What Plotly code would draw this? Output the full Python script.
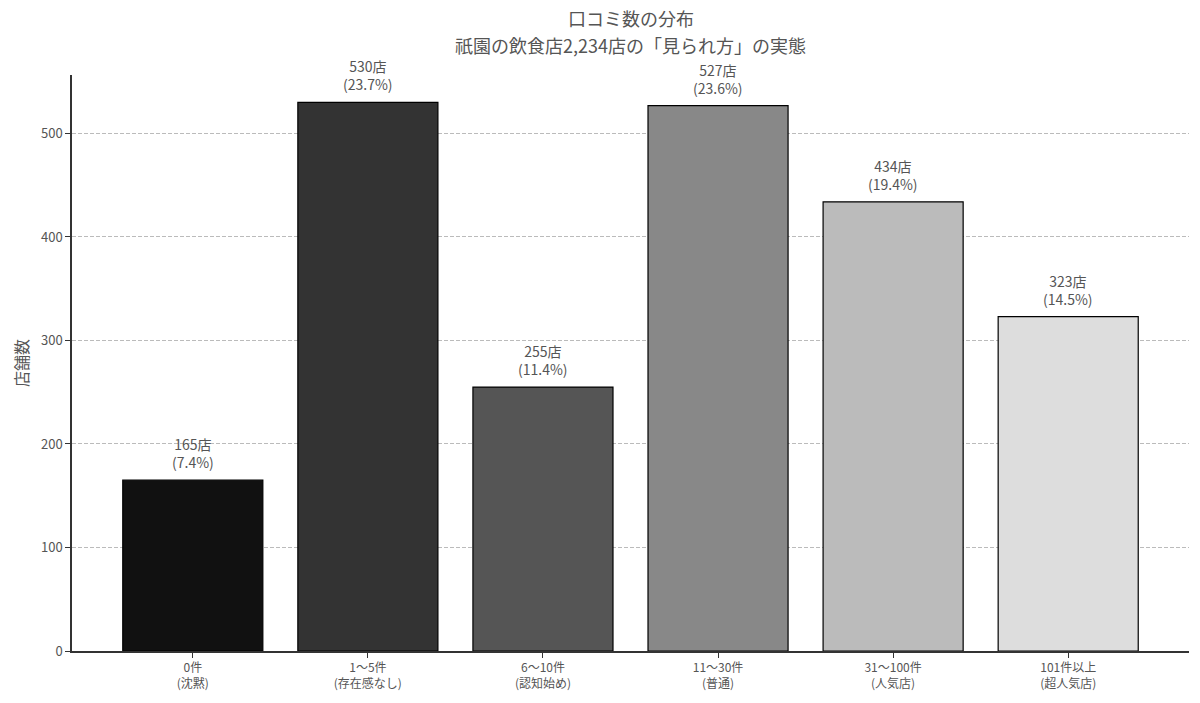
import plotly.graph_objects as go

# 口コミ数の区分ごとの店舗数
categories = ["0件<br>(沈黙)", "1〜5件<br>(存在感なし)", "6〜10件<br>(認知始め)",
              "11〜30件<br>(普通)", "31〜100件<br>(人気店)", "101件以上<br>(超人気店)"]
counts = [165, 530, 255, 527, 434, 323]
shares = [7.4, 23.7, 11.4, 23.6, 19.4, 14.5]
colors = ["#111111", "#333333", "#555555", "#888888", "#bbbbbb", "#dddddd"]

FONT = "Noto Sans CJK JP"
TXT = "#555555"

xs = list(range(len(categories)))

fig = go.Figure(go.Bar(
    x=xs,
    y=counts,
    width=0.8,
    marker=dict(color=colors, line=dict(color="black", width=1.2)),
    showlegend=False,
    hoverinfo="x+y",
))

# 棒の上のラベル
for x, c, s in zip(xs, counts, shares):
    fig.add_annotation(
        x=x, y=c, text=f"{c}店<br>({s}%)", showarrow=False,
        xanchor="center", yanchor="bottom", yshift=6,
        font=dict(family=FONT, size=14, color=TXT),
    )

# タイトル（2行）
fig.add_annotation(text="口コミ数の分布", xref="paper", yref="paper", x=0.5, y=1,
                   xanchor="center", yanchor="middle", yshift=57, showarrow=False,
                   font=dict(family=FONT, size=18, color=TXT))
fig.add_annotation(text="祇園の飲食店2,234店の「見られ方」の実態", xref="paper", yref="paper",
                   x=0.5, y=1, xanchor="center", yanchor="middle", yshift=30, showarrow=False,
                   font=dict(family=FONT, size=18, color=TXT))

# ページ余白(8px)を見込んだマージン
fig.update_layout(
    width=1200, height=703,
    paper_bgcolor="white", plot_bgcolor="white",
    font=dict(family=FONT, color=TXT),
    margin=dict(l=64, r=19, t=67, b=60, autoexpand=False),
    xaxis=dict(
        range=[-0.69, 5.69], automargin=False,
        tickmode="array", tickvals=xs, ticktext=categories,
        tickfont=dict(family=FONT, size=12, color=TXT),
        showline=True, linecolor="#333333", linewidth=1.5,
        ticks="outside", ticklen=5, tickcolor="#333333",
        showgrid=False, zeroline=False,
    ),
    yaxis=dict(
        range=[0, 556.5], automargin=False,
        tickvals=[0, 100, 200, 300, 400, 500],
        tickfont=dict(family=FONT, size=13, color=TXT),
        title=dict(text="店舗数", font=dict(family=FONT, size=16, color=TXT), standoff=8),
        showline=True, linecolor="#333333", linewidth=1.5,
        ticks="outside", ticklen=5, tickcolor="#333333",
        showgrid=True, gridcolor="#bbbbbb", griddash="4px,2px", gridwidth=1,
        zeroline=False,
    ),
)

fig.write_html("out.html")
